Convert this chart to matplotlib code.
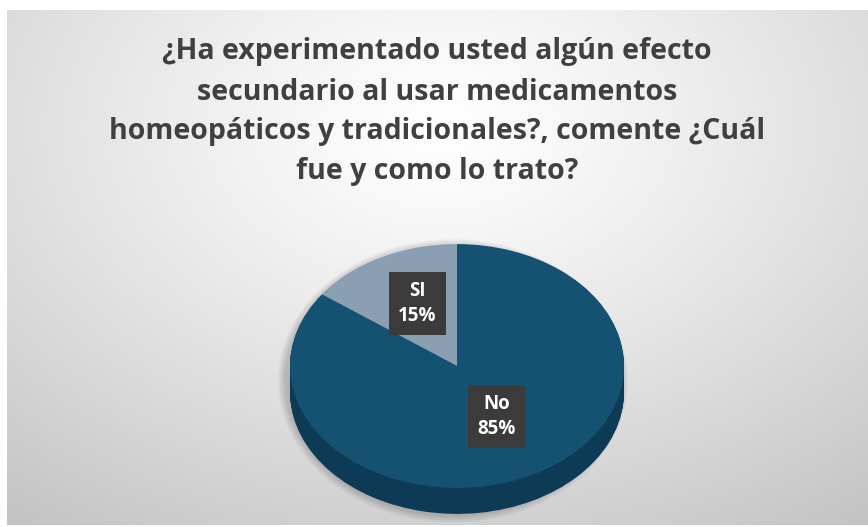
import numpy as np
import matplotlib.pyplot as plt
from matplotlib.transforms import Affine2D
from matplotlib.patches import Ellipse

# datos de la encuesta
etiquetas = ["SI", "No"]
porcentajes = [15, 85]
colores = ["#8a9fb2", "#155272"]
colores_lado = ["#5d7384", "#0d3a54"]
titulo = ("¿Ha experimentado usted algún efecto\nsecundario al usar medicamentos\n"
          "homeopáticos y tradicionales?, comente ¿Cuál\nfue y como lo trato?")

W, H = 868, 527
fig = plt.figure(figsize=(W / 100, H / 100), dpi=100)
ax = fig.add_axes([0, 0, 1, 1])
ax.axis("off")

# fondo con degradado radial (zona del grafico)
x0, x1, y0, y1 = 7, W, 2, H - 10
xx, yy = np.meshgrid(np.linspace(x0, x1, 400), np.linspace(y0, y1, 300))
d = np.sqrt(((xx - 440) / 1.3) ** 2 + ((yy - 400) / 0.9) ** 2)
g = np.clip(d / 560, 0, 1)
val = 1.0 - 0.24 * g ** 1.2
img = np.dstack([val, val, val])
ax.imshow(img, extent=[x0, x1, y0, y1], origin="lower", aspect="auto", zorder=0)

# pastel 3D: centro, radio y aplastamiento
cx, cy, r = 457, 161, 167
aplast = 0.73
prof = 26

# sombra suave
for k in range(8):
    ax.add_patch(Ellipse((cx - 4, cy - prof / 2 - 2), 2 * r + 16 - 2 * k, 2 * r * aplast + prof + 14 - 2 * k,
                         facecolor="black", alpha=0.025, edgecolor="none", zorder=1))

def aplastar(ccx, ccy):
    return Affine2D().translate(-ccx, -ccy).scale(1, aplast).translate(ccx, ccy) + ax.transData

# lado del pastel (copias desplazadas hacia abajo)
for k in range(prof, 0, -1):
    wl, _ = ax.pie(porcentajes, colors=colores_lado, startangle=90, counterclock=True,
                   center=(cx, cy - k), radius=r, wedgeprops=dict(linewidth=0))
    for w in wl:
        w.set_transform(aplastar(cx, cy - k))
        w.set_zorder(2)

wedges, _ = ax.pie(porcentajes, colors=colores, startangle=90, counterclock=True,
                   center=(cx, cy), radius=r, wedgeprops=dict(linewidth=0))
for w in wedges:
    w.set_transform(aplastar(cx, cy))
    w.set_zorder(3)

ax.set_xlim(0, W)
ax.set_ylim(0, H)
ax.set_aspect("auto")

# etiquetas de datos
for w, lab, p in zip(wedges, etiquetas, porcentajes):
    ang = np.deg2rad((w.theta1 + w.theta2) / 2)
    dist = 0.52
    tx = cx + dist * r * np.cos(ang)
    ty = cy + dist * r * np.sin(ang) * aplast + 6
    ax.text(tx, ty, f"{lab}\n{p}%", ha="center", va="center", color="white",
            fontsize=13.5, fontweight="bold", family="Open Sans", linespacing=1.3,
            zorder=5,
            bbox=dict(boxstyle="square,pad=0.5", facecolor="#3b3b3b", edgecolor="none"))

ax.text(437, H - 112, titulo, ha="center", va="center", fontsize=20.5, fontweight="bold",
        family="Open Sans", color="#404040", linespacing=1.5, zorder=5)

fig.savefig("out.png", dpi=100)
